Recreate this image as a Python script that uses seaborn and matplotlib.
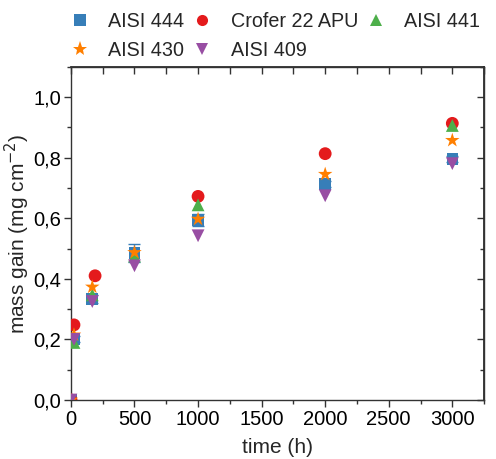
import matplotlib
matplotlib.use("Agg")
import matplotlib.pyplot as plt
import seaborn as sns
import pandas as pd
import numpy as np
from matplotlib.ticker import FuncFormatter, MultipleLocator
from matplotlib.lines import Line2D

# ---- data ----
series_names = ["AISI 444", "Crofer 22 APU", "AISI 441", "AISI 430", "AISI 409"]
time_444 = [0, 24, 168, 500, 1000, 2000, 3000]
gain_444 = [0.0, 0.20, 0.333, 0.485, 0.595, 0.713, 0.795]
err_444 = [0.0, 0.01, 0.012, 0.03, 0.02, 0.01, 0.01]
time_crofer = [0, 24, 190, 1000, 2000, 3000]
gain_crofer = [0.0, 0.248, 0.41, 0.672, 0.813, 0.913]
time_441 = [0, 24, 168, 500, 1000, 3000]
gain_441 = [0.0, 0.19, 0.347, 0.475, 0.644, 0.906]
time_430 = [0, 24, 168, 500, 1000, 2000, 3000]
gain_430 = [0.0, 0.215, 0.373, 0.487, 0.597, 0.745, 0.857]
time_409 = [0, 24, 168, 500, 1000, 2000, 3000]
gain_409 = [0.0, 0.20, 0.325, 0.443, 0.542, 0.674, 0.78]

colors = ["#377eb8", "#e41a1c", "#4daf4a", "#ff7f00", "#984ea3"]
markers = ["s", "o", "^", "*", "v"]

frames = []
for name, t, g in zip(series_names,
                      [time_444, time_crofer, time_441, time_430, time_409],
                      [gain_444, gain_crofer, gain_441, gain_430, gain_409]):
    frames.append(pd.DataFrame({"time": t, "gain": g, "alloy": name}))
df = pd.concat(frames, ignore_index=True)

sns.set_theme(style="ticks")
plt.rcParams["font.family"] = ["Liberation Sans", "DejaVu Sans"]

fig = plt.figure(figsize=(4.96, 4.59), dpi=100)
ax = fig.add_axes([0.143, 0.1285, 0.833, 0.7262])

# error bars for AISI 444
ax.errorbar(time_444, gain_444, yerr=err_444, fmt="none", ecolor=colors[0],
            elinewidth=1, capsize=4, capthick=1, zorder=1)

sizes = {"s": 70, "o": 85, "^": 85, "*": 120, "v": 85}
for name, c, m in zip(series_names, colors, markers):
    sub = df[df["alloy"] == name]
    sns.scatterplot(data=sub, x="time", y="gain", color=c, marker=m, s=sizes[m],
                    edgecolor="none", linewidth=0, ax=ax, zorder=3,
                    legend=False)

ax.set_xlim(0, 3250)
ax.set_ylim(0, 1.1)
ax.xaxis.set_major_locator(MultipleLocator(500))
ax.xaxis.set_minor_locator(MultipleLocator(250))
ax.yaxis.set_major_locator(MultipleLocator(0.2))
ax.yaxis.set_minor_locator(MultipleLocator(0.1))
ax.yaxis.set_major_formatter(FuncFormatter(lambda v, p: f"{v:.1f}".replace(".", ",")))

for s in ax.spines.values():
    s.set_visible(True)
    s.set_linewidth(1.0)
    s.set_color("#333333")

ax.tick_params(axis="both", which="both", colors="#333333", labelcolor="black",
               labelsize=14.5, width=1.0, pad=2)
ax.tick_params(which="major", length=5)
ax.tick_params(which="minor", length=3)
ax.tick_params(axis="x", which="both", direction="out", bottom=True, top=False)
ax.tick_params(axis="y", which="both", direction="out", left=True, right=False)

# mirrored inward ticks on top and right
axt = ax.secondary_xaxis("top")
axt.xaxis.set_major_locator(MultipleLocator(500))
axt.xaxis.set_minor_locator(MultipleLocator(250))
axt.tick_params(which="both", direction="in", labeltop=False, colors="#333333", width=1.0)
axt.tick_params(which="major", length=5)
axt.tick_params(which="minor", length=5)
axr = ax.secondary_yaxis("right")
axr.yaxis.set_major_locator(MultipleLocator(0.2))
axr.yaxis.set_minor_locator(MultipleLocator(0.1))
axr.tick_params(which="both", direction="in", labelright=False, colors="#333333", width=1.0)
axr.tick_params(which="major", length=5)
axr.tick_params(which="minor", length=3)

ax.set_xlabel("time (h)", fontsize=15, labelpad=7)
ax.set_ylabel("mass gain (mg cm$^{-2}$)", fontsize=15, labelpad=1)

handles = [Line2D([], [], linestyle="none", marker=m, color=c,
                  markersize=(11 if m == "*" else 8), markeredgewidth=0)
           for c, m in zip(colors, markers)]
# order so that ncol=3 column-major fill yields rows: 444, Crofer, 441 / 430, 409
order = [0, 3, 1, 4, 2]
fig.legend([handles[i] for i in order], [series_names[i] for i in order],
           ncol=3, loc="upper left", bbox_to_anchor=(0.101, 1.012), frameon=False,
           fontsize=14.2, handletextpad=0.85, columnspacing=0.3, labelspacing=0.47,
           handlelength=1.2)

fig.savefig("out.png", dpi=100)
